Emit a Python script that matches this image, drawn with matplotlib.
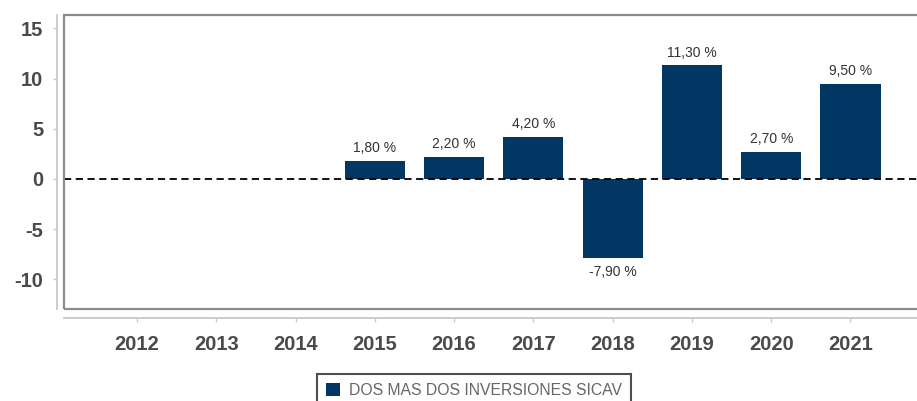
import matplotlib.pyplot as plt
from matplotlib.patches import Rectangle

plt.rcParams["font.family"] = "Liberation Sans"
plt.rcParams["axes.unicode_minus"] = False

# data
years = ["2012", "2013", "2014", "2015", "2016", "2017", "2018", "2019", "2020", "2021"]
returns = [None, None, None, 1.80, 2.20, 4.20, -7.90, 11.30, 2.70, 9.50]
series_name = "DOS MAS DOS INVERSIONES SICAV"

bar_color = "#023764"
text_color = "#4a4a4a"

W, H = 917, 401
fig = plt.figure(figsize=(W / 100, H / 100), dpi=100)

# plot box in pixel coordinates: left 64, right 925 (runs past the edge), top 15, bottom 309
ax = fig.add_axes([64 / W, (H - 309) / H, (925 - 64) / W, (309 - 15) / H])

xs = [i for i, v in enumerate(returns) if v is not None]
vals = [v for v in returns if v is not None]
bars = ax.bar(xs, vals, width=0.76, color=bar_color, zorder=2)

ax.axhline(0, color="black", linestyle=(0, (4, 2.5)), linewidth=1.3, zorder=3)

# value labels
for x, v in zip(xs, vals):
    label = f"{v:.2f}".replace(".", ",") + " %"
    if v >= 0:
        ax.annotate(label, (x, v), xytext=(0, 4), textcoords="offset points",
                    ha="center", va="bottom", fontsize=10, color="#333333")
    else:
        ax.annotate(label, (x, v), xytext=(0, -5), textcoords="offset points",
                    ha="center", va="top", fontsize=10, color="#333333")

ax.set_xlim(-0.92, 9.94)
ax.set_ylim(-12.94, 16.32)
ax.set_xticks(range(len(years)))
ax.set_xticklabels(years)
ax.set_yticks([-10, -5, 0, 5, 10, 15])

# axis lines offset from the box
for side in ["top", "right"]:
    ax.spines[side].set_visible(False)
ax.spines["left"].set_position(("outward", 5))
ax.spines["bottom"].set_position(("outward", 6.5))
for side in ["left", "bottom"]:
    ax.spines[side].set_color("#c8c8c8")
    ax.spines[side].set_linewidth(1.3)

ax.add_patch(Rectangle((0, 0), 1, 1, transform=ax.transAxes, fill=False,
                       edgecolor="#8c8c8c", linewidth=1.6, clip_on=False, zorder=4))

ax.tick_params(axis="both", colors="#c8c8c8", labelcolor=text_color,
               labelsize=14.5, length=3, width=1)
ax.tick_params(axis="y", pad=7)
ax.tick_params(axis="x", pad=9)
for lbl in ax.get_xticklabels() + ax.get_yticklabels():
    lbl.set_fontweight("bold")

# legend box, cut by the bottom edge
leg = fig.legend([bars], [series_name], loc="upper left",
                 bbox_to_anchor=(317 / W, (H - 374) / H), borderaxespad=0,
                 frameon=True, fancybox=False, fontsize=11.3, handlelength=0.9,
                 handleheight=0.9, handletextpad=0.6, borderpad=0.55)
leg.get_frame().set_edgecolor("#222222")
leg.get_frame().set_linewidth(1.5)
for t in leg.get_texts():
    t.set_color("#666666")

fig.savefig("out.png", dpi=100)
